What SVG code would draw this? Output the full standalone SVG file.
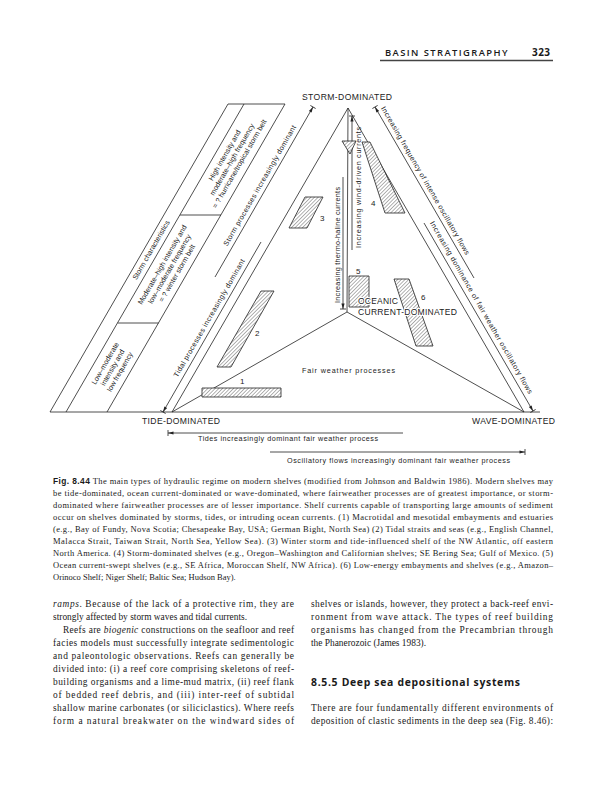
<svg xmlns="http://www.w3.org/2000/svg" width="599" height="800" viewBox="0 0 599 800">
<defs>
<style>
.ln{stroke:#222;stroke-width:0.8;fill:none}
.ar{stroke:#222;stroke-width:0.8;fill:none;marker-end:url(#ab)}
.hb{fill:url(#hatch);stroke:#222;stroke-width:0.8}
.dl{font-family:"Liberation Sans",Arial,sans-serif;font-size:7.2px;fill:#222}
.cap{font-family:"Liberation Sans",Arial,sans-serif;font-size:8.6px;fill:#222}
.num{font-family:"Liberation Sans",Arial,sans-serif;font-size:8px;fill:#222}
.halo{paint-order:stroke;stroke:#fff;stroke-width:2.2px;stroke-linejoin:round}
.cp{font-family:"Liberation Serif","Times New Roman",serif;font-size:8.5px;fill:#1a1a1a}
.bd{font-family:"Liberation Serif","Times New Roman",serif;font-size:9.4px;fill:#1a1a1a}
.hd{font-family:"Open Sans","Liberation Sans",Arial,sans-serif;fill:#1a1a1a}
</style>
<pattern id="hatch" patternUnits="userSpaceOnUse" width="2.6" height="2.6" patternTransform="rotate(45)">
<rect width="2.6" height="2.6" fill="#fff"/>
<line x1="0" y1="0" x2="0" y2="2.6" stroke="#222" stroke-width="0.7"/>
</pattern>
<marker id="ab" viewBox="-7 -4 8 8" refX="0" refY="0" markerWidth="8" markerHeight="8" markerUnits="userSpaceOnUse" orient="auto">
<path d="M0,0 L-5.5,-1.6 L-5.5,1.6 Z" fill="#222"/>
<path d="M0,-3 V3" stroke="#222" stroke-width="0.8"/>
</marker>
</defs>
<rect width="599" height="800" fill="#fff"/>

<g id="header">
<text class="hd" x="385" y="55.5" font-size="9.4" font-weight="600" letter-spacing="0.5" textLength="123">BASIN STRATIGRAPHY</text>
<text class="hd" x="532" y="55.5" font-size="10" font-weight="bold" textLength="18">323</text>
<line x1="380" y1="60.5" x2="553" y2="60.5" stroke="#444" stroke-width="1.3"/>
</g>

<g id="connectors">
<line class="ln" x1="348" y1="108" x2="172" y2="412"/>
<line class="ln" x1="348" y1="108" x2="524" y2="412"/>
<line class="ln" x1="347" y1="312" x2="172" y2="412"/>
<line class="ln" x1="347" y1="312" x2="524" y2="412"/>
<line class="ln" x1="348" y1="108" x2="347" y2="312"/>
<line class="ln" x1="50" y1="412" x2="540" y2="412"/>
<line class="ar" x1="215" y1="277" x2="313" y2="107"/>
<line class="ar" x1="261" y1="242" x2="163" y2="412"/>
<line class="ar" x1="474" y1="278" x2="375" y2="107"/>
<line class="ar" x1="424" y1="223" x2="533" y2="411"/>
<line class="ar" x1="343" y1="177" x2="343" y2="309"/>
<line class="ar" x1="352" y1="250" x2="352" y2="116"/>
<line class="ar" x1="403" y1="433" x2="168" y2="433"/>
<line class="ar" x1="270" y1="452" x2="525" y2="452"/>
</g>

<g id="storm-characteristics">
<line class="ln" x1="228" y1="104" x2="50" y2="412"/>
<line class="ln" x1="244" y1="104" x2="66" y2="412"/>
<line class="ln" x1="285" y1="104" x2="107" y2="412"/>
<line class="ln" x1="228" y1="104" x2="285" y2="104"/>
<line class="ln" x1="180" y1="215" x2="221" y2="215"/>
<line class="ln" x1="117.7" y1="323" x2="158.6" y2="323"/>
<text class="dl" transform="translate(151,250) rotate(-60)" text-anchor="middle" y="2.5" font-size="7.6">Storm characteristics</text>
<g transform="translate(232,159.5) rotate(-60)" class="dl" text-anchor="middle">
<text y="-6">High intensity and</text>
<text y="2.5">moderate–high frequency</text>
<text y="11">= ? hurricane/tropical storm belt</text>
</g>
<g transform="translate(169.5,269) rotate(-60)" class="dl" text-anchor="middle">
<text y="-6">Moderate–high intensity and</text>
<text y="2.5">low–moderate frequency</text>
<text y="11">= ? winter storm belt</text>
</g>
<g transform="translate(112.5,367.5) rotate(-60)" class="dl" text-anchor="middle">
<text y="-6">Low–moderate</text>
<text y="2.5">intensity and</text>
<text y="11">low frequency</text>
</g>
</g>

<g id="arrow-labels" class="dl">
<text transform="translate(265.7,189) rotate(-60)" text-anchor="middle" y="-4.5" textLength="138">Storm processes increasingly dominant</text>
<text transform="translate(215.2,321.5) rotate(-60)" text-anchor="middle" y="-4.5" textLength="135">Tidal processes increasingly dominant</text>
<text transform="translate(419.4,184) rotate(60)" text-anchor="middle" y="-4.5" textLength="170">Increasing frequency of intense oscillatory flows</text>
<text transform="translate(475.3,311) rotate(60)" text-anchor="middle" y="-4.5" textLength="198">Increasing dominance of fair weather oscillatory flows</text>
<text transform="translate(343,245) rotate(-90)" text-anchor="middle" y="-3.2" textLength="116">Increasing thermo-haline currents</text>
<text transform="translate(352,187.5) rotate(-90)" text-anchor="middle" y="9" textLength="121">Increasing wind-driven currents</text>
<text x="198" y="441" textLength="180">Tides increasingly dominant fair weather process</text>
<text x="287" y="463" textLength="223">Oscillatory flows increasingly dominant fair weather process</text>
</g>

<g id="box1"><polygon class="hb" points="202,388 281,388 281,397 202,397"/><text class="num" x="240" y="384">1</text></g>
<g id="box2"><polygon class="hb" points="261,291 274,291 231,367 217,367"/><text class="num" x="255" y="336">2</text></g>
<g id="box3"><polygon class="hb" points="305,197 323,197 307,228 289,228"/><text class="num" x="320" y="221">3</text></g>
<g id="box4"><polygon class="hb" points="362,142 370,142 405,213 385,213"/><text class="num" x="371" y="206">4</text></g>
<g id="box4a"><polygon class="hb" points="342,141 356,141 350,154"/></g>
<g id="box5"><polygon class="hb" points="349,276 369,276 369,307 349,307"/><text class="num" x="356" y="274">5</text></g>
<g id="box6"><polygon class="hb" points="394,279 409,279 433,346 416,346"/><text class="num" x="421" y="300">6</text></g>

<g id="corner-labels" class="cap">
<text x="347" y="100" text-anchor="middle" textLength="90">STORM-DOMINATED</text>
<text x="142" y="424" textLength="78">TIDE-DOMINATED</text>
<text x="472" y="424" textLength="83">WAVE-DOMINATED</text>
<text class="cap halo" x="358" y="304" textLength="40">OCEANIC</text>
<text class="cap halo" x="358" y="314.5" textLength="99">CURRENT-DOMINATED</text>
<text class="dl" x="302" y="373" font-size="7.8" textLength="93">Fair weather processes</text>
</g>

<g id="caption" class="cp">
<text x="53" y="484" textLength="500" lengthAdjust="spacing"><tspan font-family="Liberation Sans,Arial,sans-serif" font-weight="bold" font-size="8.4">Fig. 8.44</tspan> The main types of hydraulic regime on modern shelves (modified from Johnson and Baldwin 1986). Modern shelves may</text>
<text x="53" y="496" textLength="500" lengthAdjust="spacing">be tide-dominated, ocean current-dominated or wave-dominated, where fairweather processes are of greatest importance, or storm-</text>
<text x="53" y="508" textLength="500" lengthAdjust="spacing">dominated where fairweather processes are of lesser importance. Shelf currents capable of transporting large amounts of sediment</text>
<text x="53" y="520" textLength="500" lengthAdjust="spacing">occur on shelves dominated by storms, tides, or intruding ocean currents. (1) Macrotidal and mesotidal embayments and estuaries</text>
<text x="53" y="532" textLength="500" lengthAdjust="spacing">(e.g., Bay of Fundy, Nova Scotia; Chesapeake Bay, USA; German Bight, North Sea) (2) Tidal straits and seas (e.g., English Channel,</text>
<text x="53" y="544" textLength="500" lengthAdjust="spacing">Malacca Strait, Taiwan Strait, North Sea, Yellow Sea). (3) Winter storm and tide-influenced shelf of the NW Atlantic, off eastern</text>
<text x="53" y="556" textLength="500" lengthAdjust="spacing">North America. (4) Storm-dominated shelves (e.g., Oregon–Washington and Californian shelves; SE Bering Sea; Gulf of Mexico. (5)</text>
<text x="53" y="568" textLength="500" lengthAdjust="spacing">Ocean current-swept shelves (e.g., SE Africa, Moroccan Shelf, NW Africa). (6) Low-energy embayments and shelves (e.g., Amazon–</text>
<text x="53" y="580">Orinoco Shelf; Niger Shelf; Baltic Sea; Hudson Bay).</text>
</g>

<g id="body-left" class="bd">
<text x="53" y="607" textLength="241" lengthAdjust="spacing"><tspan font-style="italic">ramps</tspan>. Because of the lack of a protective rim, they are</text>
<text x="53" y="620">strongly affected by storm waves and tidal currents.</text>
<text x="63" y="633" textLength="231" lengthAdjust="spacing">Reefs are <tspan font-style="italic">biogenic</tspan> constructions on the seafloor and reef</text>
<text x="53" y="646" textLength="241" lengthAdjust="spacing">facies models must successfully integrate sedimentologic</text>
<text x="53" y="659" textLength="241" lengthAdjust="spacing">and paleontologic observations. Reefs can generally be</text>
<text x="53" y="672" textLength="241" lengthAdjust="spacing">divided into: (i) a reef core comprising skeletons of reef-</text>
<text x="53" y="685" textLength="241" lengthAdjust="spacing">building organisms and a lime-mud matrix, (ii) reef flank</text>
<text x="53" y="698" textLength="241" lengthAdjust="spacing">of bedded reef debris, and (iii) inter-reef of subtidal</text>
<text x="53" y="711" textLength="241" lengthAdjust="spacing">shallow marine carbonates (or siliciclastics). Where reefs</text>
<text x="53" y="724" textLength="241" lengthAdjust="spacing">form a natural breakwater on the windward sides of</text>
</g>

<g id="body-right" class="bd">
<text x="311" y="607" textLength="242" lengthAdjust="spacing">shelves or islands, however, they protect a back-reef envi-</text>
<text x="311" y="620" textLength="242" lengthAdjust="spacing">ronment from wave attack. The types of reef building</text>
<text x="311" y="633" textLength="242" lengthAdjust="spacing">organisms has changed from the Precambrian through</text>
<text x="311" y="646">the Phanerozoic (James 1983).</text>
<text class="hd" x="311" y="686" font-size="10.4" font-weight="bold" textLength="209">8.5.5 Deep sea depositional systems</text>
<text x="311" y="711" textLength="242" lengthAdjust="spacing">There are four fundamentally different environments of</text>
<text x="311" y="724" textLength="242" lengthAdjust="spacing">deposition of clastic sediments in the deep sea (Fig. 8.46):</text>
</g>
</svg>
